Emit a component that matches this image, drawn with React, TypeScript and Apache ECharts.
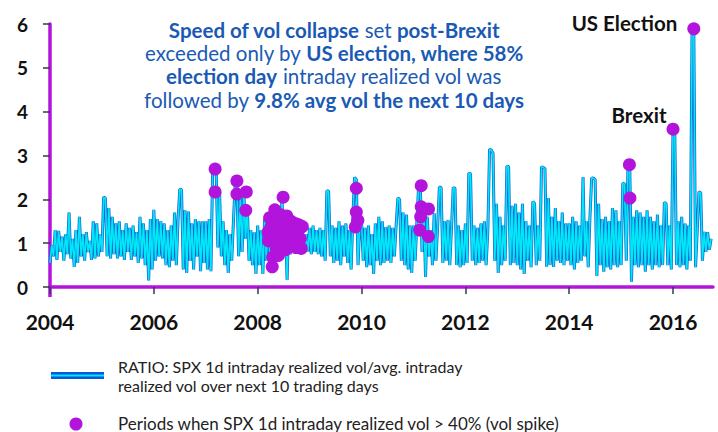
import { useEffect, useRef } from "react";
import * as echarts from "echarts";

// Ratio of SPX 1d intraday realized vol to avg. intraday realized vol over the next 10 trading days,
// 30 evenly spaced observations per calendar year.
const POINTS_PER_YEAR = 30;
const YEARS = [2004, 2005, 2006, 2007, 2008, 2009, 2010, 2011, 2012, 2013, 2014, 2015, 2016];

const RATIO_2004 = [0.55, 0.95, 0.7, 1.3, 0.62, 1.28, 0.8, 1.15, 0.6, 1.2, 0.75, 1.7, 0.65, 1.1, 0.46, 1.3, 0.55, 1.6, 0.7, 1.2, 0.6, 1.25, 0.8, 1.05, 0.62, 1.5, 0.65, 1.45, 0.7, 1.2];
const RATIO_2005 = [0.8, 2.05, 2.03, 0.7, 1.8, 0.65, 1.6, 0.75, 1.45, 0.65, 1.5, 0.7, 1.3, 0.62, 1.45, 0.8, 1.35, 0.62, 1.4, 0.7, 1.25, 0.55, 1.6, 0.65, 1.45, 0.5, 1.3, 0.15, 1.55, 0.4];
const RATIO_2006 = [1.76, 0.6, 1.55, 0.7, 1.5, 0.65, 1.45, 0.5, 1.3, 0.45, 1.4, 0.6, 1.7, 0.5, 1.55, 2.23, 2.22, 0.4, 1.75, 0.32, 1.72, 0.6, 1.45, 0.4, 1.55, 0.7, 1.5, 0.36, 1.5, 0.55];
const RATIO_2007 = [1.5, 0.4, 1.55, 0.36, 2.7, 2.7, 2.68, 0.9, 2.15, 0.7, 1.5, 0.5, 1.3, 0.32, 1.2, 0.6, 1.5, 2.37, 2.35, 0.7, 2.1, 0.8, 2.15, 1.1, 1.85, 0.6, 1.3, 0.5, 1.25, 0.3];
const RATIO_2008 = [1.4, 0.5, 1.3, 0.3, 1.55, 0.6, 1.6, 0.7, 1.75, 0.55, 1.6, 0.8, 1.55, 0.6, 2.05, 0.9, 1.5, 0.16, 1.6, 0.75, 1.45, 0.9, 1.4, 0.85, 1.3, 0.8, 1.25, 0.85, 1.2, 0.8];
const RATIO_2009 = [1.35, 0.75, 1.4, 0.8, 1.3, 0.75, 1.35, 0.7, 1.3, 0.6, 2.2, 2.18, 0.7, 1.4, 0.55, 1.35, 0.6, 1.5, 0.5, 1.4, 0.7, 1.45, 0.55, 1.3, 0.4, 1.6, 2.5, 2.45, 0.5, 1.45];
const RATIO_2010 = [1.5, 0.6, 1.35, 0.45, 1.4, 0.5, 1.2, 0.3, 1.45, 0.6, 1.6, 0.5, 1.5, 0.55, 1.37, 0.6, 1.4, 0.55, 1.35, 0.7, 1.4, 2.03, 2.0, 0.6, 1.7, 0.5, 1.65, 0.4, 1.4, 0.32];
const RATIO_2011 = [1.4, 0.6, 1.5, 2.3, 2.28, 0.8, 1.8, 0.23, 1.6, 0.7, 1.3, 0.5, 1.68, 0.6, 1.4, 2.28, 2.27, 0.55, 1.5, 0.6, 1.53, 0.5, 1.35, 2.27, 2.25, 0.5, 1.4, 0.45, 1.3, 0.5];
const RATIO_2012 = [1.45, 0.55, 2.6, 2.58, 0.6, 1.4, 0.5, 1.35, 0.55, 1.45, 0.6, 1.5, 0.5, 1.3, 3.15, 3.12, 3.05, 0.6, 1.9, 0.32, 1.6, 0.5, 1.4, 0.6, 2.76, 2.74, 0.5, 1.85, 0.55, 1.9];
const RATIO_2013 = [0.5, 1.7, 0.4, 1.9, 0.3, 1.5, 0.6, 1.4, 0.45, 1.95, 1.9, 0.5, 1.4, 0.6, 2.74, 2.73, 2.7, 0.46, 2.03, 0.5, 1.6, 0.46, 1.8, 0.6, 1.5, 0.55, 1.7, 0.5, 1.45, 0.6];
const RATIO_2014 = [1.45, 0.5, 1.6, 0.4, 1.5, 0.55, 1.4, 0.6, 2.51, 0.7, 1.5, 0.45, 1.6, 2.49, 2.48, 2.45, 0.25, 1.9, 0.5, 1.55, 0.35, 1.6, 0.45, 1.5, 0.4, 1.8, 0.5, 1.75, 0.45, 1.5];
const RATIO_2015 = [0.5, 2.37, 2.35, 0.6, 2.79, 2.75, 0.12, 1.6, 0.5, 1.75, 0.45, 1.7, 0.5, 1.6, 0.35, 1.75, 0.5, 1.6, 0.4, 1.5, 0.5, 1.65, 0.45, 1.4, 0.5, 1.93, 1.9, 0.5, 1.4, 0.4];
const RATIO_2016 = [3.6, 3.58, 0.5, 1.5, 0.45, 1.6, 0.5, 1.45, 0.4, 1.4, 0.6, 5.89, 5.87, 0.45, 1.3, 2.17, 2.15, 0.6, 1.26, 0.8, 1.25, 0.85, 1.1];

const RATIO_BY_YEAR = [
  RATIO_2004, RATIO_2005, RATIO_2006, RATIO_2007, RATIO_2008, RATIO_2009, RATIO_2010,
  RATIO_2011, RATIO_2012, RATIO_2013, RATIO_2014, RATIO_2015, RATIO_2016,
];

// Periods when SPX 1d intraday realized vol > 40% (vol spike): [year, ratio]
const SPIKES_2007 = [[2007.18, 2.69], [2007.18, 2.17], [2007.6, 2.42], [2007.6, 2.12], [2007.78, 2.17], [2007.77, 1.75]];
const SPIKES_2008 = [
  [2008.2, 1.25], [2008.21, 1.05], [2008.23, 1.58], [2008.25, 1.35], [2008.28, 0.46], [2008.29, 0.68],
  [2008.31, 1.5], [2008.33, 1.76], [2008.35, 1.2], [2008.36, 0.88], [2008.38, 1.55], [2008.4, 0.72],
  [2008.42, 1.3], [2008.44, 1.65], [2008.46, 1.0], [2008.49, 2.05], [2008.5, 1.2], [2008.52, 1.45],
  [2008.54, 0.85], [2008.56, 1.62], [2008.58, 1.1], [2008.6, 1.3], [2008.62, 0.95], [2008.64, 1.5],
  [2008.66, 1.2], [2008.68, 1.38], [2008.7, 1.05], [2008.72, 1.45], [2008.74, 0.9], [2008.76, 1.25],
  [2008.79, 1.42], [2008.82, 1.1], [2008.84, 0.88], [2008.86, 1.38],
];
const SPIKES_2009 = [[2009.9, 2.25], [2009.9, 1.71], [2009.93, 1.52], [2009.88, 1.37]];
const SPIKES_2011 = [[2011.15, 2.31], [2011.15, 1.83], [2011.29, 1.78], [2011.14, 1.6], [2011.12, 1.3], [2011.29, 1.15]];
const SPIKES_2015 = [[2015.16, 2.79], [2015.17, 2.03]];
const BREXIT = [2016.0, 3.6];
const US_ELECTION = [2016.4, 5.89];

const X_MIN = 2004;
const X_MAX = 2016.77;
const Y_MAX = 6;

const TITLE_LINES = [
  "{b|Speed of vol collapse}{r| set }{b|post-Brexit}",
  "{r|exceeded only by }{b|US election, where 58%}",
  "{b|election day}{r| intraday realized vol was}",
  "{r|followed by }{b|9.8% avg vol the next 10 days}",
];
const LEGEND_RATIO = "RATIO: SPX 1d intraday realized vol/avg. intraday\nrealized vol over next 10 trading days";
const LEGEND_SPIKE = "Periods when SPX 1d intraday realized vol > 40% (vol spike)";

const PURPLE = "#b214dc";
const BLUE = "#1460d2";
const CYAN = "#00e8f8";
const TITLE_BLUE = "#1a5ab4";
const FONT = "Lato, 'Noto Sans', sans-serif";

export default function App() {
  const ref = useRef<HTMLDivElement>(null);

  useEffect(() => {
    document.body.style.margin = "0";
    if (!ref.current) return;
    const chart = echarts.init(ref.current, null, { renderer: "svg" });

    const ratioData: number[][] = [];
    YEARS.forEach((year, k) => {
      RATIO_BY_YEAR[k].forEach((v, i) => ratioData.push([year + i / POINTS_PER_YEAR, v]));
    });

    const spikeData: any[] = [
      ...SPIKES_2007, ...SPIKES_2008, ...SPIKES_2009, ...SPIKES_2011, ...SPIKES_2015,
    ].map((p) => ({ value: p }));
    spikeData.push({
      value: BREXIT,
      label: { show: true, formatter: "Brexit", position: "left", distance: 0, offset: [0, -14] },
    });
    spikeData.push({
      value: US_ELECTION,
      label: { show: true, formatter: "US Election", position: "left", distance: 10, offset: [0, -6] },
    });

    chart.setOption({
      animation: false,
      textStyle: { fontFamily: FONT },
      grid: { left: 50, right: 5, top: 24, bottom: 145 },
      xAxis: {
        type: "value",
        min: X_MIN,
        max: X_MAX,
        interval: 2,
        axisLine: { show: true, lineStyle: { color: PURPLE, width: 3.5 } },
        axisTick: { show: true, length: 7, lineStyle: { color: "#2e3d4f", width: 1.5 } },
        axisLabel: {
          formatter: (v: number) => String(v),
          color: "#111",
          fontSize: 21,
          fontWeight: "bold",
          fontFamily: FONT,
          margin: 24,
          showMaxLabel: false,
        },
        splitLine: { show: false },
      },
      yAxis: {
        type: "value",
        min: 0,
        max: Y_MAX,
        interval: 1,
        axisLine: { show: true, onZero: false, lineStyle: { color: PURPLE, width: 3.5 } },
        axisTick: { show: true, length: 7, lineStyle: { color: "#2e3d4f", width: 1.5 } },
        axisLabel: {
          color: "#111",
          fontSize: 19,
          fontWeight: "bold",
          fontFamily: FONT,
          margin: 22,
        },
        splitLine: { show: false },
      },
      series: [
        {
          type: "line",
          data: ratioData,
          symbol: "none",
          lineStyle: { color: BLUE, width: 3 },
          z: 2,
        },
        {
          type: "line",
          data: ratioData,
          symbol: "none",
          lineStyle: { color: CYAN, width: 1.6 },
          z: 3,
        },
        {
          type: "scatter",
          data: spikeData,
          symbolSize: 13,
          itemStyle: { color: PURPLE, opacity: 1 },
          label: { color: "#111", fontSize: 20.5, fontWeight: "bold", fontFamily: FONT },
          z: 4,
        },
      ],
      graphic: [
        {
          type: "line",
          shape: { x1: 50, y1: 287, x2: 50, y2: 297 },
          style: { stroke: PURPLE, lineWidth: 3.5 },
        },
        {
          type: "text",
          x: 334,
          y: 18,
          style: {
            text: TITLE_LINES.join("\n"),
            align: "center",
            verticalAlign: "top",
            lineHeight: 23.3,
            rich: {
              b: { fontFamily: FONT, fontSize: 20.5, fontWeight: "bold", fill: TITLE_BLUE, lineHeight: 23.3 },
              r: { fontFamily: FONT, fontSize: 20.5, fontWeight: "normal", fill: TITLE_BLUE, lineHeight: 23.3 },
            },
          },
        },
        {
          type: "rect",
          shape: { x: 51, y: 372, width: 53, height: 7 },
          style: { fill: "#0a58d8" },
        },
        {
          type: "rect",
          shape: { x: 51, y: 374.5, width: 53, height: 2 },
          style: { fill: "#00e6ff" },
        },
        {
          type: "text",
          x: 118,
          y: 376,
          style: {
            text: LEGEND_RATIO,
            font: `16px ${FONT}`,
            fill: "#222",
            lineHeight: 19,
            verticalAlign: "middle",
          },
        },
        {
          type: "circle",
          shape: { cx: 76, cy: 424, r: 6.5 },
          style: { fill: PURPLE },
        },
        {
          type: "text",
          x: 118,
          y: 423,
          style: {
            text: LEGEND_SPIKE,
            font: `17px ${FONT}`,
            fill: "#222",
            verticalAlign: "middle",
          },
        },
      ],
    });

    return () => chart.dispose();
  }, []);

  return <div ref={ref} style={{ width: 718, height: 432 }} />;
}
